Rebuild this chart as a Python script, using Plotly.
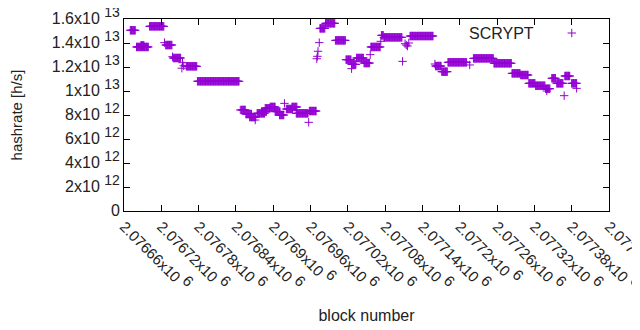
import plotly.graph_objects as go

# Runs of consecutive blocks sharing one hashrate value
run_start = [2076670, 2076680, 2076687, 2076701, 2076725, 2076727, 2076738, 2076739,
             2076753, 2076754, 2076756, 2076760, 2076778, 2076847, 2076849, 2076856,
             2076862, 2076871, 2076874, 2076881, 2076887, 2076895, 2076903, 2076910,
             2076918, 2076921, 2076930, 2076937, 2076957, 2076958, 2076970, 2076971,
             2076972, 2076974, 2076975, 2076984, 2077000, 2077017, 2077026, 2077026,
             2077034, 2077046, 2077056, 2077057, 2077073, 2077074, 2077078, 2077108,
             2077112, 2077114, 2077116, 2077118, 2077120, 2077160, 2077161, 2077171,
             2077181, 2077216, 2077222, 2077255, 2077284, 2077298, 2077311, 2077322,
             2077338, 2077340, 2077348, 2077356, 2077368, 2077369, 2077380, 2077388]
run_end = [2076678, 2076699, 2076692, 2076724, 2076725, 2076737, 2076738, 2076751,
           2076753, 2076754, 2076756, 2076777, 2076845, 2076847, 2076855, 2076865,
           2076872, 2076871, 2076886, 2076889, 2076895, 2076903, 2076911, 2076917,
           2076918, 2076931, 2076938, 2076956, 2076957, 2076969, 2076970, 2076971,
           2076972, 2076974, 2076983, 2076999, 2077016, 2077025, 2077033, 2077026,
           2077045, 2077055, 2077056, 2077072, 2077073, 2077077, 2077107, 2077108,
           2077112, 2077114, 2077116, 2077118, 2077157, 2077160, 2077170, 2077180,
           2077211, 2077216, 2077254, 2077283, 2077297, 2077310, 2077321, 2077337,
           2077345, 2077340, 2077354, 2077366, 2077368, 2077377, 2077388, 2077388]
run_value = [1.506e13, 1.367e13, 1.38e13, 1.539e13, 1.403e13, 1.383e13, 1.286e13, 1.275e13,
             1.19e13, 1.236e13, 1.21e13, 1.206e13, 1.081e13, 8.42e12, 8.42e12, 8.08e12,
             7.83e12, 7.58e12, 8.14e12, 8.28e12, 8.56e12, 8.67e12, 8.28e12, 8.0e12,
             8.97e12, 8.5e12, 8.67e12, 8.14e12, 7.39e12, 8.33e12, 1.269e13, 1.289e13,
             1.331e13, 1.403e13, 1.522e13, 1.564e13, 1.422e13, 1.261e13, 1.222e13, 1.186e13,
             1.275e13, 1.233e13, 1.303e13, 1.367e13, 1.414e13, 1.464e13, 1.447e13, 1.247e13,
             1.394e13, 1.383e13, 1.375e13, 1.40e13, 1.458e13, 1.225e13, 1.208e13, 1.161e13,
             1.239e13, 1.217e13, 1.272e13, 1.231e13, 1.147e13, 1.133e13, 1.064e13, 1.044e13,
             1.019e13, 1.0e13, 1.106e13, 1.064e13, 9.61e12, 1.125e13, 1.064e13, 1.022e13]

x_tickvals = [2076660, 2076720, 2076780, 2076840, 2076900, 2076960, 2077020,
              2077080, 2077140, 2077200, 2077260, 2077320, 2077380, 2077440]
x_mantissa = ["2.07666", "2.07672", "2.07678", "2.07684", "2.0769", "2.07696", "2.07702",
              "2.07708", "2.07714", "2.0772", "2.07726", "2.07732", "2.07738", "2.07744"]
y_tickvals = [0, 2e12, 4e12, 6e12, 8e12, 1e13, 1.2e13, 1.4e13, 1.6e13]
y_mantissa = ["0", "2", "4", "6", "8", "1", "1.2", "1.4", "1.6"]
y_exponent = ["", "12", "12", "12", "12", "13", "13", "13", "13"]


def sci(m, e, size):
    if not e:
        return m
    return m + "x10 <sup><span style='font-size:%dpx'>" % size + e + "</span></sup>"


x_ticktext = [sci(m, "6", 15) for m in x_mantissa]
y_ticktext = [sci(m, e, 14) for m, e in zip(y_mantissa, y_exponent)]

blocks, rates = [], []
for s, e, v in zip(run_start, run_end, run_value):
    for b in range(s, e + 1):
        blocks.append(b)
        rates.append(v)

color = "#9400D3"
font = "Liberation Sans, Arial, sans-serif"

fig = go.Figure()
fig.add_trace(go.Scatter(
    x=blocks, y=rates, mode="markers", name=" ",
    marker=dict(symbol="cross-thin", size=6, color=color,
                line=dict(width=1, color=color)),
))

axis_common = dict(showline=True, linecolor="black", linewidth=1, mirror="allticks",
                   ticks="inside", ticklen=6, tickcolor="black", showgrid=False,
                   zeroline=False, automargin=False, ticklabeloverflow="allow")

fig.update_xaxes(range=[2076659.9, 2077440.1], tickmode="array", tickvals=x_tickvals,
                 ticktext=x_ticktext, tickangle=45,
                 tickfont=dict(family=font, size=15, color="#222"),
                 title=dict(text="block number", font=dict(family=font, size=16, color="#222"),
                            standoff=16),
                 **axis_common)
fig.update_yaxes(range=[0, 1.6e13], tickmode="array", tickvals=y_tickvals,
                 ticktext=y_ticktext, ticklabelshift=-1,
                 tickfont=dict(family=font, size=16, color="#222"),
                 title=dict(text="hashrate [h/s]", font=dict(family=font, size=15, color="#222"),
                            standoff=27),
                 **axis_common)

fig.add_annotation(text="SCRYPT", xref="paper", yref="paper", x=0.85, y=0.925,
                   xanchor="right", yanchor="middle", showarrow=False,
                   font=dict(family=font, size=16, color="#222"))

fig.update_layout(
    width=640, height=330,
    margin=dict(l=116, r=39, t=11, b=127, autoexpand=False),
    paper_bgcolor="white", plot_bgcolor="white",
    showlegend=True,
    legend=dict(x=0.882, y=0.925, xanchor="left", yanchor="middle",
                bgcolor="rgba(0,0,0,0)", font=dict(family=font, size=14)),
    font=dict(family=font, size=15, color="#222"),
)

fig.write_html("out.html")
